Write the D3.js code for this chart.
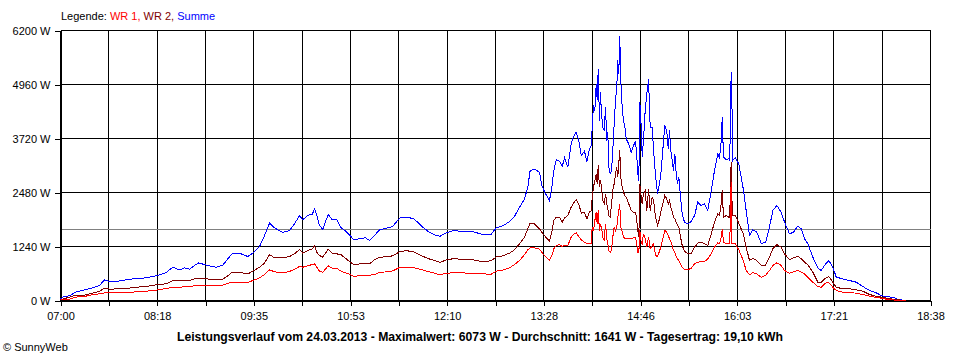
<!DOCTYPE html>
<html>
<head>
<meta charset="utf-8">
<script src="https://cdn.jsdelivr.net/npm/d3@7"></script>
<style>
  html, body { margin: 0; padding: 0; background: #fff; }
  svg { display: block; font-family: "Liberation Sans", Arial, sans-serif; }
  .crisp { shape-rendering: crispEdges; }
</style>
</head>
<body>
<svg id="chart" width="960" height="360"></svg>
<script>
// ---------- DATA ----------
const times = ["07:00:00","07:02:24","07:07:12","07:12:00","07:19:18","07:25:54","07:31:18","07:35:18","07:39:18","07:46:00",
"07:52:42","08:00:42","08:08:48","08:16:48","08:24:48","08:30:06","08:35:30","08:39:30","08:43:30","08:47:30",
"08:51:00","08:56:54","09:04:54","09:10:12","09:14:12","09:17:48","09:23:36","09:30:18","09:34:18","09:39:42",
"09:43:42","09:47:42","09:51:42","09:58:18","10:03:42","10:07:42","10:11:48","10:14:24","10:18:24","10:21:54",
"10:23:48","10:25:36","10:27:48","10:30:24","10:34:48","10:38:00","10:41:42","10:45:12","10:49:12","10:52:24",
"10:55:06","11:01:12","11:04:42","11:07:54","11:11:54","11:15:54","11:21:18","11:26:36","11:29:18","11:32:30",
"11:38:36","11:44:00","11:49:24","11:54:42","12:00:06","12:04:36","12:09:24","12:14:42","12:22:48","12:30:48",
"12:37:30","12:45:36","12:49:36","12:54:54","13:00:12","13:04:12","13:08:18","13:12:18","13:14:54","13:16:48",
"13:20:18","13:24:18","13:26:06","13:28:54","13:32:18","13:34:12","13:35:48","13:37:42","13:40:24","13:42:30",
"13:44:24","13:47:00","13:49:42","13:51:36","13:53:42","13:55:48","13:57:48","14:00:24","14:02:18","14:04:24",
"14:05:48","14:06:36","14:07:36","14:08:42","14:09:48","14:10:36","14:11:24","14:12:24","14:13:12","14:14:00",
"14:15:06","14:16:12","14:17:18","14:18:18","14:19:06","14:19:54","14:21:00","14:22:06","14:23:06","14:24:12",
"14:25:18","14:26:18","14:27:06","14:27:54","14:28:42","14:29:30","14:30:42","14:31:42","14:32:42","14:33:54",
"14:35:54","14:37:54","14:39:42","14:41:06","14:42:06","14:43:12","14:44:00","14:44:48","14:45:54","14:46:42",
"14:47:42","14:49:06","14:50:24","14:51:48","14:53:06","14:54:42","14:55:48","14:57:24","14:59:00","15:00:36",
"15:01:54","15:03:12","15:04:48","15:06:24","15:07:36","15:08:36","15:09:36","15:10:48","15:11:48","15:12:54",
"15:14:00","15:15:00","15:16:06","15:17:12","15:18:48","15:20:36","15:23:18","15:26:00","15:28:42","15:31:18",
"15:34:00","15:36:42","15:39:18","15:42:06","15:44:42","15:47:24","15:48:42","15:50:06","15:50:54","15:51:54",
"15:54:06","15:56:12","15:57:00","15:57:30","15:58:06","15:58:36","15:59:24","16:01:30","16:04:12","16:06:06",
"16:08:00","16:10:06","16:12:48","16:15:24","16:18:36","16:22:12","16:25:36","16:28:48","16:31:30","16:34:42",
"16:38:12","16:40:54","16:44:54","16:48:06","16:51:30","16:54:18","16:56:54","16:59:36","17:03:36","17:07:36",
"17:10:18","17:13:48","17:16:24","17:19:36","17:22:24","17:27:36","17:33:00","17:38:24","17:43:42","17:49:06",
"17:54:24","17:58:30","18:02:30","18:07:48","18:11:48","18:18:30"];

const wr1 = [15,15,31,77,92,138,153,176,176,184,
184,199,214,237,276,306,306,314,321,337,
337,337,337,352,398,413,413,413,459,520,
597,704,658,635,666,719,781,765,796,827,
842,765,673,650,796,742,735,673,627,597,
559,566,574,582,597,643,658,681,719,765,
765,750,712,666,627,589,627,635,635,620,
612,604,673,696,750,827,918,1056,1163,1209,
1209,1178,1110,1010,918,1033,1186,1263,1286,1240,
1263,1263,1454,1516,1554,1470,1393,1340,1301,1301,
1317,1684,1607,1837,2028,1760,2066,1607,1760,1684,
1454,1378,1760,1416,1301,1148,1110,1148,1454,1684,
1607,1684,1913,2066,2220,1684,1569,1454,1431,1416,
1416,1416,1439,1454,1340,1110,1110,1607,1340,1301,
1531,1416,1224,1454,1186,1263,1301,1033,1010,1133,
1263,1416,1607,1569,1493,1416,1362,1263,1148,1110,
995,957,918,842,765,719,704,742,842,880,
895,895,957,1071,1224,1324,1301,1454,1645,1340,
1301,1301,1301,2220,2717,1301,1301,1301,1163,1033,
903,689,589,643,612,536,574,689,804,865,
804,689,627,658,689,650,612,536,421,321,
306,398,413,306,230,191,184,168,138,99,
69,54,31,15,0,0];

const wr2 = [20,38,77,122,122,168,214,283,260,268,
276,306,321,360,383,459,452,459,459,497,
512,497,475,490,567,650,643,612,673,765,
857,1056,980,980,1010,1071,1171,1087,1148,1186,
1255,1110,1033,995,1178,1087,1071,1049,957,880,
827,842,842,842,934,995,1003,1026,1071,1133,
1140,1110,1033,964,918,873,934,957,949,934,
895,911,1003,1026,1087,1163,1301,1454,1645,1775,
1760,1645,1569,1470,1362,1569,1837,1913,1913,1799,
1898,1952,2143,2235,2311,2220,2005,2028,1875,2028,
2066,2373,2602,2755,2908,2679,3100,2602,2755,2602,
2296,2220,2450,2220,2105,1952,1913,2220,2526,2679,
2908,3061,2832,3138,3444,2832,2602,2487,2411,2373,
2220,2066,2028,2028,1913,1607,1454,2679,2373,2220,
2450,2526,2066,2564,2066,2373,2296,1913,1722,1875,
2066,2220,2411,2334,2220,2296,2143,2028,1913,1875,
1799,1722,1684,1493,1263,1133,1071,1071,1224,1317,
1340,1301,1263,1531,1799,1990,1952,2220,2526,1913,
1952,1913,1913,2755,3176,2373,1952,1952,1775,1645,
1516,1224,918,964,918,804,804,995,1186,1286,
1224,1071,934,980,1018,957,880,819,650,421,
421,512,551,421,306,268,268,245,214,138,
99,77,54,31,15,0];

const summe = [30,92,107,191,245,291,344,475,436,444,
475,505,520,567,643,765,704,750,719,804,
865,811,765,811,957,1079,1087,1010,1087,1240,
1493,1775,1669,1561,1607,1760,1952,1852,1959,1975,
2105,1967,1722,1638,1975,1852,1852,1669,1584,1493,
1393,1424,1439,1378,1493,1623,1661,1699,1799,1898,
1913,1867,1714,1592,1508,1477,1554,1600,1592,1584,
1523,1523,1669,1714,1814,1929,2143,2334,2602,2985,
3015,2946,2641,2465,2296,2602,2985,3230,3199,3077,
3276,3061,3597,3766,3865,3674,3330,3429,3176,3482,
3559,3980,4478,4363,4975,4593,5320,4133,4784,4287,
3980,3904,4440,3674,3865,3061,2908,2985,3444,4057,
4593,4898,5511,5205,6073,5052,4402,4133,4018,3712,
3597,3406,3559,3635,3444,2908,2755,4553,3980,3291,
3674,4363,4746,5090,3980,3980,3444,2870,2450,2679,
2985,3444,4018,3904,3482,3904,3444,3215,2985,3368,
2908,2679,2832,2450,1990,1799,1760,1814,1952,2258,
2181,2220,2066,2526,2985,3368,3253,3674,4209,3291,
3230,3253,3215,4440,5243,4669,3215,3276,3138,2832,
2526,2066,1493,1623,1569,1317,1324,1684,2066,2181,
2028,1799,1531,1569,1707,1645,1416,1301,995,750,
689,842,918,765,536,497,459,421,321,230,
176,115,84,77,23,0];

const yTicks = [0, 1240, 2480, 3720, 4960, 6200];
const xTickLabels = ["07:00","08:18","09:35","10:53","12:10","13:28","14:46","16:03","17:21","18:38"];
const timeStart = "07:00:00", timeEnd = "18:38:00";
const average = 1641;
const legendItems = [{name: "WR 1", color: "#ff0000"}, {name: "WR 2", color: "#800000"}, {name: "Summe", color: "#0000ff"}];
const titleText = "Leistungsverlauf vom 24.03.2013 - Maximalwert: 6073 W - Durchschnitt: 1641 W - Tagesertrag: 19,10 kWh";
const copyright = "\u00A9 SunnyWeb";

// ---------- CHART ----------
const parse = d3.timeParse("%H:%M:%S");
const svg = d3.select("#chart");
const x = d3.scaleTime().domain([parse(timeStart), parse(timeEnd)]).range([60.5, 930.5]);
const y = d3.scaleLinear().domain([0, 6200]).range([300.5, 30.5]);

const t0 = parse(timeStart).getTime(), t1 = parse(timeEnd).getTime();
const gridTimes = d3.range(19).map(i => new Date(t0 + i * (t1 - t0) / 18));

const grid = svg.append("g").attr("class", "crisp");
grid.selectAll(".vg").data(gridTimes).join("line")
  .attr("x1", d => x(d)).attr("x2", d => x(d))
  .attr("y1", y(6200)).attr("y2", y(0))
  .attr("stroke", "#000").attr("stroke-width", 1);
grid.selectAll(".hg").data(yTicks).join("line")
  .attr("x1", x.range()[0]).attr("x2", x.range()[1])
  .attr("y1", d => y(d)).attr("y2", d => y(d))
  .attr("stroke", "#000").attr("stroke-width", 1);

// average line
svg.append("line").attr("class", "crisp")
  .attr("x1", x.range()[0]).attr("x2", x.range()[1])
  .attr("y1", y(average)).attr("y2", y(average))
  .attr("stroke", "#808080").attr("stroke-width", 1);

// axes
const xAxis = d3.axisBottom(x).tickValues(gridTimes).tickSizeInner(5).tickSizeOuter(0).tickPadding(7)
  .tickFormat((d, i) => i % 2 === 0 ? xTickLabels[i / 2] : "");
const gx = svg.append("g").attr("class", "crisp").attr("transform", `translate(0,${y(0)})`).call(xAxis);
const yAxis = d3.axisLeft(y).tickValues(yTicks).tickSizeInner(6).tickSizeOuter(0).tickPadding(4)
  .tickFormat(d => d + " W");
const gy = svg.append("g").attr("class", "crisp").attr("transform", `translate(${x.range()[0]},0)`).call(yAxis);
[gx, gy].forEach(g => {
  g.selectAll("path, line").attr("stroke", "#000");
  g.selectAll("text").attr("fill", "#000").style("font-size", "11px")
    .style("font-family", '"Liberation Sans", Arial, sans-serif');
});

// series
const rows = times.map((t, i) => ({t: parse(t), wr1: wr1[i], wr2: wr2[i], summe: summe[i]}));
const seriesOrder = [
  {key: "summe", color: legendItems[2].color},
  {key: "wr2", color: legendItems[1].color},
  {key: "wr1", color: legendItems[0].color}
];
seriesOrder.forEach(s => {
  const line = d3.line().x(d => x(d.t)).y(d => y(d[s.key]));
  svg.append("path").datum(rows).attr("class", "crisp")
    .attr("d", line).attr("fill", "none").attr("stroke", s.color).attr("stroke-width", 1);
});

// legend
const lg = svg.append("text").attr("x", 61).attr("y", 20).style("font-size", "11px");
lg.append("tspan").attr("fill", "#000").text("Legende: ");
legendItems.forEach((it, i) => {
  lg.append("tspan").attr("fill", it.color).text(it.name + (i < legendItems.length - 1 ? ", " : ""));
});

// title
svg.append("text").attr("x", 480).attr("y", 341).attr("text-anchor", "middle")
  .style("font-size", "12px").style("font-weight", "bold").attr("fill", "#000")
  .attr("textLength", 606).attr("lengthAdjust", "spacingAndGlyphs")
  .text(titleText);

// copyright
svg.append("text").attr("x", 3).attr("y", 351).style("font-size", "11px").attr("fill", "#000").text(copyright);
</script>
</body>
</html>
